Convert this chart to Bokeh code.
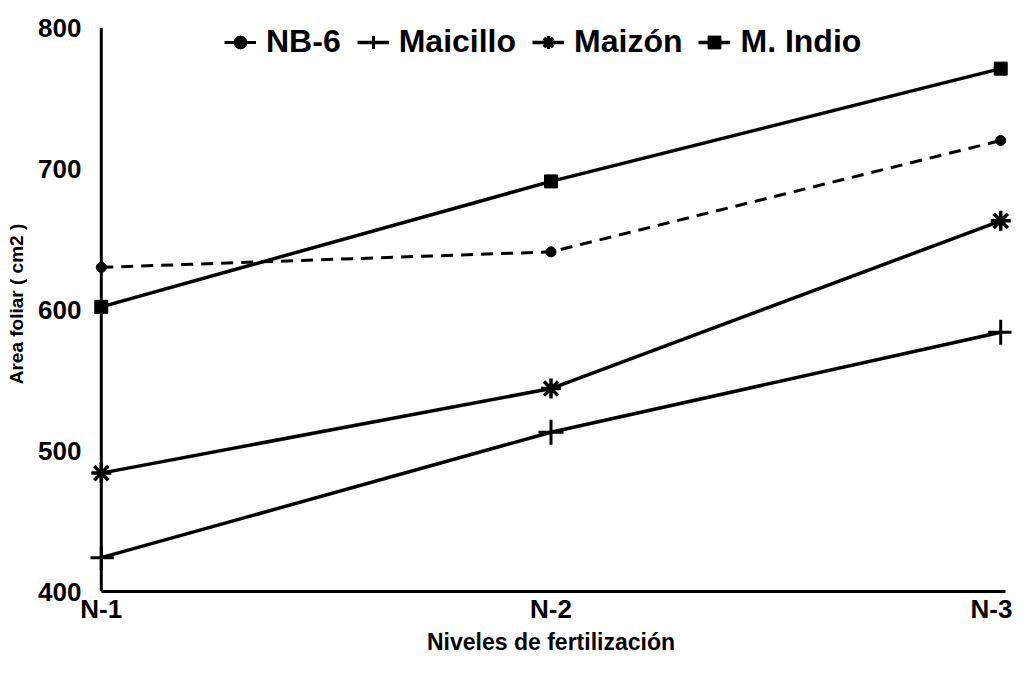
from bokeh.plotting import figure
from bokeh.models import FixedTicker, Range1d, Legend, LegendItem
from bokeh.embed import file_html
from bokeh.resources import INLINE

levels = ["N-1", "N-2", "N-3"]
x = [1, 2, 3]
nb6 = [630, 641, 720]
maicillo = [424, 513, 584]
maizon = [484, 544, 663]
m_indio = [602, 691, 771]
y_ticks = [400, 500, 600, 700, 800]

FONT = "Liberation Sans"

p = figure(width=1012, height=658, output_backend="svg", toolbar_location=None,
           x_range=Range1d(0.976, 3.024), y_range=Range1d(400, 808),
           min_border_left=90, min_border_right=1, min_border_top=16, min_border_bottom=67)
p.grid.visible = False
p.outline_line_color = None

# vertical axis line placed at the first category
p.segment(x0=[x[0]], y0=[y_ticks[0]], x1=[x[0]], y1=[y_ticks[-1]],
          line_color="black", line_width=3)

l1 = p.line(x, nb6, line_color="black", line_width=3, line_dash="12 8")
m1 = p.scatter(x, nb6, marker="circle", size=10, color="black")
l2 = p.line(x, maicillo, line_color="black", line_width=3.5)
m2 = p.scatter(x, maicillo, marker="cross", size=25, line_color="black", line_width=3)
l3 = p.line(x, maizon, line_color="black", line_width=3.5)
m3 = p.scatter(x, maizon, marker="asterisk", size=20, line_color="black", line_width=3.5)
l4 = p.line(x, m_indio, line_color="black", line_width=3.5)
m4 = p.scatter(x, m_indio, marker="square", size=13, color="black")

legend = Legend(items=[
    LegendItem(label="NB-6", renderers=[l1, m1]),
    LegendItem(label="Maicillo", renderers=[l2, m2]),
    LegendItem(label="Maizón", renderers=[l3, m3]),
    LegendItem(label="M. Indio", renderers=[l4, m4]),
], orientation="horizontal", location=(134, 531))
legend.label_text_font = FONT
legend.label_text_font_style = "bold"
legend.label_text_font_size = "32px"
legend.label_text_color = "black"
legend.background_fill_alpha = 0
legend.border_line_color = None
legend.glyph_width = 32
legend.glyph_height = 36
legend.spacing = 16
legend.label_standoff = 10
legend.padding = 0
legend.margin = 0
p.add_layout(legend)

p.xaxis.ticker = FixedTicker(ticks=x)
p.xaxis.major_label_overrides = {xi: lab for xi, lab in zip(x, levels)}
p.xaxis.bounds = (1, 3.01)
p.yaxis.ticker = FixedTicker(ticks=y_ticks)

for ax in (p.xaxis, p.yaxis):
    ax.axis_line_width = 3
    ax.axis_line_color = "black"
    ax.major_tick_line_color = None
    ax.minor_tick_line_color = None
    ax.major_tick_out = 0
    ax.major_tick_in = 0
    ax.minor_tick_out = 0
    ax.minor_tick_in = 0
    ax.major_label_text_font = FONT
    ax.major_label_text_font_style = "bold"
    ax.major_label_text_font_size = "26px"
    ax.major_label_text_color = "black"
    ax.axis_label_text_font = FONT
    ax.axis_label_text_font_style = "bold"
    ax.axis_label_text_color = "black"

p.yaxis.axis_line_color = None

p.xaxis.major_label_standoff = 2
p.xaxis.axis_label = "Niveles de fertilización"
p.xaxis.axis_label_text_font_size = "23px"
p.xaxis.axis_label_standoff = 2

p.yaxis.major_label_standoff = 9
p.yaxis.axis_label = "Area foliar ( cm2 )"
p.yaxis.axis_label_text_font_size = "19px"
p.yaxis.axis_label_standoff = 8

open("out.html", "w").write(file_html(p, INLINE))
